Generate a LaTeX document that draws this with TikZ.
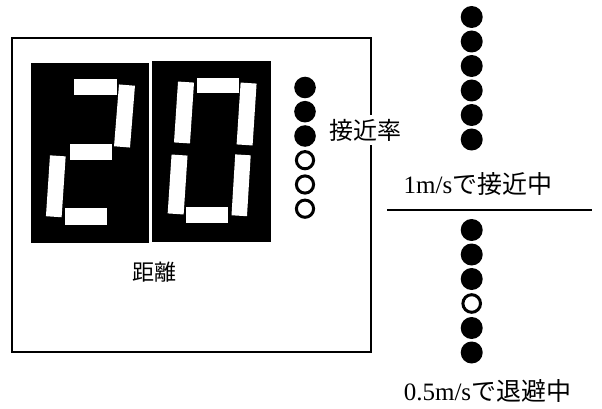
\documentclass[tikz,border=0pt]{standalone}
\usepackage{fontspec}
\setmainfont{Liberation Serif}
\newfontfamily\jp{Noto Sans CJK JP}
\begin{document}
\begin{tikzpicture}[x=1pt,y=-1pt,
  seg/.style={fill=white,draw=none,inner sep=0pt,rectangle},
  panel/.style={fill=black,draw=none},
  dot/.style={fill=black},
  ring/.style={draw=black,line width=3pt,fill=white},
  lbl/.style={inner sep=0pt,font=\fontsize{25}{29}\selectfont}]
\useasboundingbox (0,0) rectangle (602,409);
% outer frame
\draw[line width=2pt] (12,38) rectangle (371,352);
% panels
\fill[panel] (30.7,62.7) rectangle (149,243);
\fill[panel] (152,61) rectangle (271,242);
% digit 2
\node[seg,minimum width=43pt,minimum height=15.7pt] (d2a) at (95.8,87.2) {};
\node[seg,minimum width=16pt,minimum height=62pt,rotate=-4.6] (d2b) at (124.5,116) {};
\node[seg,minimum width=42pt,minimum height=16pt] (d2g) at (91,152) {};
\node[seg,minimum width=15.7pt,minimum height=61pt,rotate=-3.8] (d2e) at (55.8,186.3) {};
\node[seg,minimum width=41.7pt,minimum height=17pt] (d2d) at (85.8,216.5) {};
% digit 0
\node[seg,minimum width=42.3pt,minimum height=15.6pt] (d0a) at (217.8,85.5) {};
\node[seg,minimum width=16pt,minimum height=61pt,rotate=-3.8] (d0f) at (184,112.5) {};
\node[seg,minimum width=16pt,minimum height=62pt,rotate=-3.7] (d0b) at (246.6,114) {};
\node[seg,minimum width=16pt,minimum height=59pt,rotate=-3.8] (d0e) at (177.6,184.5) {};
\node[seg,minimum width=15.5pt,minimum height=61pt,rotate=-3.5] (d0c) at (241.1,185.3) {};
\node[seg,minimum width=42pt,minimum height=16.6pt] (d0d) at (207,215) {};
% left indicator column
\fill[dot] (305,87.5) circle (10.8);
\fill[dot] (305,111.7) circle (10.8);
\fill[dot] (305,136) circle (10.8);
\draw[ring] (305,160.2) circle (8.6);
\draw[ring] (305,184.5) circle (8.6);
\draw[ring] (305,208.7) circle (8.6);
\node[lbl,fill=white,inner sep=4pt,font=\jp\fontsize{24}{28}\selectfont] (rate) at (365,130) {接近率};
\node[lbl,font=\jp\fontsize{22}{26}\selectfont] (dist) at (154,272) {距離};
% right: approaching
\foreach \yy in {17,41.5,66,90.5,115,139.5} \fill[dot] (471.7,\yy) circle (11);
\node[lbl] (t1) at (478,184) {1m/s{\jp で接近中}};
\coordinate (l1) at (387,210);
\coordinate (l2) at (592,210);
\draw[line width=2pt] (l1) -- (l2);
% right: receding
\foreach \yy in {230,254.5,279,328,352.5} \fill[dot] (471.7,\yy) circle (11);
\draw[ring] (471.7,303.5) circle (8.8);
\node[lbl] (t2) at (487.5,391) {0.5m/s{\jp で退避中}};
\end{tikzpicture}
\end{document}
